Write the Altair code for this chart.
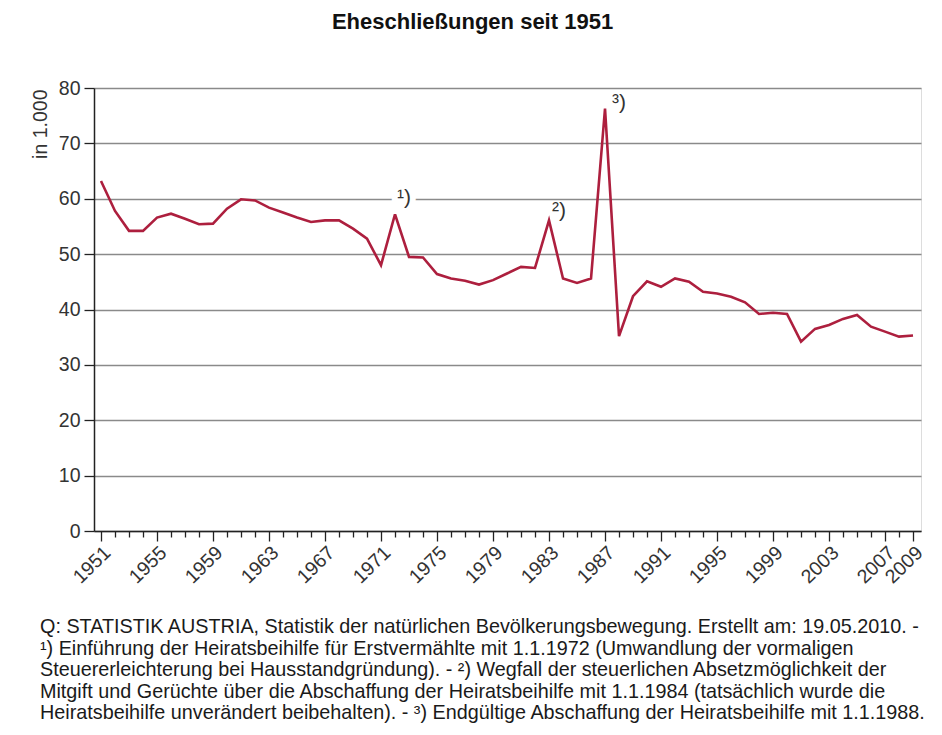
import altair as alt
import pandas as pd

years = list(range(1951, 2010))
marriages = [63.2, 57.8, 54.2, 54.2, 56.6, 57.3, 56.4, 55.4, 55.5, 58.2,
             59.9, 59.7, 58.4, 57.5, 56.6, 55.8, 56.1, 56.1, 54.6, 52.8,
             48.0, 57.2, 49.5, 49.4, 46.4, 45.6, 45.2, 44.5, 45.3, 46.5,
             47.7, 47.5, 56.1, 45.6, 44.8, 45.6, 76.3, 35.2, 42.4, 45.1,
             44.1, 45.6, 45.0, 43.2, 42.9, 42.3, 41.3, 39.2, 39.4, 39.2,
             34.2, 36.5, 37.2, 38.3, 39.0, 36.9, 36.0, 35.1, 35.3]
label_years = [1951, 1955, 1959, 1963, 1967, 1971, 1975, 1979, 1983, 1987,
               1991, 1995, 1999, 2003, 2007, 2009]
y_ticks = [0, 10, 20, 30, 40, 50, 60, 70, 80]

note_years = [1972, 1983, 1987]
note_values = [57.2, 56.1, 76.3]
note_labels = ["¹)", "²)", "³)"]

title_text = "Eheschließungen seit 1951"
y_title = "in 1.000"
footnote_lines = [
    "Q: STATISTIK AUSTRIA, Statistik der natürlichen Bevölkerungsbewegung. Erstellt am: 19.05.2010. -",
    "¹) Einführung der Heiratsbeihilfe für Erstvermählte mit 1.1.1972 (Umwandlung der vormaligen",
    "Steuererleichterung bei Hausstandgründung). - ²) Wegfall der steuerlichen Absetzmöglichkeit der",
    "Mitgift und Gerüchte über die Abschaffung der Heiratsbeihilfe mit 1.1.1984 (tatsächlich wurde die",
    "Heiratsbeihilfe unverändert beibehalten). - ³) Endgültige Abschaffung der Heiratsbeihilfe mit 1.1.1988.",
]

FONT = "Liberation Sans"
W, H = 827, 443

df = pd.DataFrame({"year": years, "value": marriages})
notes = pd.DataFrame({"year": note_years, "value": note_values, "label": note_labels})

lab_list = "[" + ",".join(str(y) for y in label_years) + "]"
is_major = f"indexof({lab_list}, datum.value) >= 0"

xscale = alt.Scale(domain=[1950.5, 2009.57], nice=False, zero=False)
yscale = alt.Scale(domain=[0, 80], nice=False)

x_axis = alt.Axis(
    values=years, tickCount=500,
    labelExpr=f"{is_major} ? '' + datum.value : ''",
    labelAngle=-44, labelAlign="right", labelBaseline="top",
    labelOverlap=False, labelBound=False, labelFlush=False,
    labelFontSize=19.5, labelColor="#333333", labelFont=FONT, labelPadding=2,
    tickSize={"condition": {"test": is_major, "value": 10}, "value": 6},
    tickColor="#222222", tickWidth=1.3,
    domainColor="#222222", domainWidth=1.5,
    grid=False, title=None,
)
y_axis = alt.Axis(
    values=y_ticks, tickCount=20, tickSize=10, tickColor="#222222", tickWidth=1.3,
    domainColor="#222222", domainWidth=1.5,
    labelFontSize=19.5, labelColor="#333333", labelFont=FONT, labelPadding=4,
    grid=True, gridColor="#8a8a8a", gridWidth=1.4,
    title=y_title, titleFont=FONT, titleFontSize=19.5, titleFontWeight="normal",
    titleColor="#333333", titleAngle=-90, titleAlign="right", titleBaseline="middle",
    titleX=-54, titleY=1,
)

base = alt.Chart(df)
line = base.mark_line(color="#AD1F3E", strokeWidth=2.6, strokeJoin="miter").encode(
    x=alt.X("year:Q", scale=xscale, axis=x_axis),
    y=alt.Y("value:Q", scale=yscale, axis=y_axis),
)

offsets = [(2, -16), (3, -9), (7, -5)]
note_layers = []
for i, (dx, dy) in enumerate(offsets):
    src = alt.Chart(notes).transform_filter(alt.datum.label == note_labels[i])
    enc = dict(x=alt.X("year:Q", scale=xscale), y=alt.Y("value:Q", scale=yscale), text="label:N")
    if i == 0:
        note_layers.append(src.mark_text(align="left", baseline="middle", dx=dx, dy=dy,
                                         fontSize=21, font=FONT, stroke="white", strokeWidth=12,
                                         color="white").encode(**enc))
    note_layers.append(src.mark_text(align="left", baseline="middle", dx=dx, dy=dy,
                                     fontSize=21, font=FONT, color="#333333").encode(**enc))

foot = alt.Chart(pd.DataFrame({"a": [0]})).mark_text(
    text=footnote_lines, align="left", baseline="top", lineHeight=21.6,
    fontSize=19.8, font=FONT, color="#1a1a1a",
).encode(x=alt.value(-54), y=alt.value(529))

chart = alt.layer(line, *note_layers, foot).properties(
    width=W, height=H,
    title=alt.Title(title_text, font=FONT, fontSize=22, fontWeight="bold", color="#111111",
                    anchor="middle", dx=-35, offset=44),
    autosize=alt.AutoSizeParams(type="none"),
    padding={"left": 86, "top": 80, "right": 13, "bottom": 196},
).configure_view(stroke="#222222", strokeWidth=1.5).configure(background="white")

chart.save("out.html", embed_options={"renderer": "svg", "actions": False})
